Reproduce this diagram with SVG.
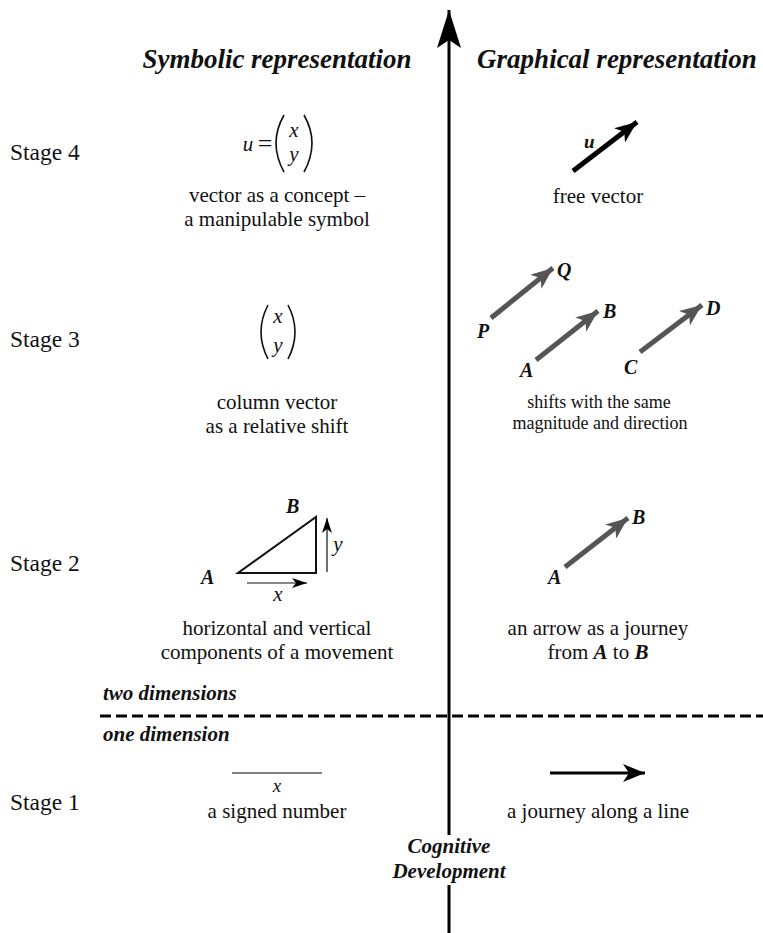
<svg xmlns="http://www.w3.org/2000/svg" width="763" height="933" viewBox="0 0 763 933">
<style>
text{font-family:"Liberation Serif","Times New Roman",serif;fill:#111}
.t{font-size:27px;font-weight:bold;font-style:italic}
.s{font-size:23.5px}
.b{font-size:21px;text-anchor:middle}
.sm{font-size:18px;text-anchor:middle}
.m{font-size:21px;font-style:italic;text-anchor:middle}
.lb{font-size:20px;font-weight:bold;font-style:italic}
.d{font-size:21px;font-weight:bold;font-style:italic}
.gray{stroke:#555;stroke-width:5;fill:none}
</style>
<defs>
<marker id="ax" markerUnits="userSpaceOnUse" viewBox="0 0 40 24" refX="38" refY="12" markerWidth="40" markerHeight="24" orient="auto"><path d="M0,0 L38,12 L0,24 L8,12 Z" fill="#000"/></marker>
<marker id="gh" markerUnits="userSpaceOnUse" viewBox="0 0 24 18" refX="22" refY="9" markerWidth="24" markerHeight="18" orient="auto"><path d="M0,0 L22,9 L0,18 L6,9 Z" fill="#555"/></marker>
<marker id="bh" markerUnits="userSpaceOnUse" viewBox="0 0 24 18" refX="22" refY="9" markerWidth="24" markerHeight="18" orient="auto"><path d="M0,0 L22,9 L0,18 L6,9 Z" fill="#000"/></marker>
<marker id="sh" markerUnits="userSpaceOnUse" viewBox="0 0 16 10" refX="15" refY="5" markerWidth="16" markerHeight="10" orient="auto"><path d="M0,0 L15,5 L0,10 L4,5 Z" fill="#000"/></marker>
</defs>
<g id="connectors">
<line x1="449" y1="933" x2="449" y2="885" stroke="#000" stroke-width="3"/>
<line x1="449" y1="835" x2="449" y2="10" stroke="#000" stroke-width="3" marker-end="url(#ax)"/>
<line x1="100" y1="716" x2="763" y2="716" stroke="#000" stroke-width="3" stroke-dasharray="11 5"/>
</g>
<g id="titles">
<text class="t" x="277" y="68" text-anchor="middle">Symbolic representation</text>
<text class="t" x="617" y="68" text-anchor="middle">Graphical representation</text>
</g>
<g id="stages">
<text class="s" x="10" y="160">Stage 4</text>
<text class="s" x="10" y="347">Stage 3</text>
<text class="s" x="10" y="571">Stage 2</text>
<text class="s" x="10" y="810">Stage 1</text>
</g>
<g id="stage4-symbolic">
<text class="m" x="248" y="151">u</text>
<text x="265" y="152" font-size="26" text-anchor="middle">=</text>
<path d="M284,115 Q268,143 284,172" fill="none" stroke="#111" stroke-width="1.6"/>
<path d="M304,115 Q320,143 304,172" fill="none" stroke="#111" stroke-width="1.6"/>
<text class="m" x="294" y="137">x</text>
<text class="m" x="294" y="161">y</text>
<text class="b" x="277" y="202">vector as a concept –</text>
<text class="b" x="277" y="226">a manipulable symbol</text>
</g>
<g id="stage4-graphical">
<line x1="573" y1="171" x2="637" y2="122" stroke="#000" stroke-width="5" marker-end="url(#bh)"/>
<text class="d" x="584" y="148" style="font-size:19px">u</text>
<text class="b" x="598" y="203">free vector</text>
</g>
<g id="stage3-symbolic">
<path d="M268,305 Q254,332 268,359" fill="none" stroke="#111" stroke-width="1.6"/>
<path d="M288,305 Q302,332 288,359" fill="none" stroke="#111" stroke-width="1.6"/>
<text class="m" x="278" y="323">x</text>
<text class="m" x="278" y="352">y</text>
<text class="b" x="277" y="409">column vector</text>
<text class="b" x="277" y="433">as a relative shift</text>
</g>
<g id="stage3-graphical">
<line x1="491" y1="318" x2="553" y2="268" class="gray" marker-end="url(#gh)"/>
<text class="lb" x="557" y="277">Q</text>
<text class="lb" x="477" y="338">P</text>
<line x1="536" y1="360" x2="598" y2="311" class="gray" marker-end="url(#gh)"/>
<text class="lb" x="603" y="318">B</text>
<text class="lb" x="520" y="377">A</text>
<line x1="640" y1="352" x2="702" y2="305" class="gray" marker-end="url(#gh)"/>
<text class="lb" x="706" y="315">D</text>
<text class="lb" x="624" y="374">C</text>
<text class="sm" x="599" y="408">shifts with the same</text>
<text class="sm" x="600" y="429">magnitude and direction</text>
</g>
<g id="stage2-symbolic">
<path d="M238,573 L316,573 L316,517 Z" fill="none" stroke="#111" stroke-width="2"/>
<text class="lb" x="286" y="513">B</text>
<text class="lb" x="201" y="584">A</text>
<line x1="327" y1="572" x2="327" y2="518" stroke="#111" stroke-width="1.2" marker-end="url(#sh)"/>
<text class="m" x="338" y="551">y</text>
<line x1="247" y1="583" x2="307" y2="583" stroke="#111" stroke-width="1.2" marker-end="url(#sh)"/>
<text class="m" x="278" y="601">x</text>
<text class="b" x="277" y="635">horizontal and vertical</text>
<text class="b" x="277" y="659">components of a movement</text>
</g>
<g id="stage2-graphical">
<line x1="565" y1="567" x2="628" y2="518" class="gray" marker-end="url(#gh)"/>
<text class="lb" x="632" y="524">B</text>
<text class="lb" x="548" y="584">A</text>
<text class="b" x="598" y="635">an arrow as a journey</text>
<text class="b" x="598" y="659">from <tspan font-weight="bold" font-style="italic">A</tspan> to <tspan font-weight="bold" font-style="italic">B</tspan></text>
</g>
<g id="dimensions">
<text class="d" x="103" y="700">two dimensions</text>
<text class="d" x="103" y="741">one dimension</text>
</g>
<g id="stage1-symbolic">
<line x1="232" y1="773" x2="322" y2="773" stroke="#555" stroke-width="1.5"/>
<text class="m" x="277" y="792" style="font-size:19px">x</text>
<text class="b" x="277" y="818">a signed number</text>
</g>
<g id="stage1-graphical">
<line x1="550" y1="773" x2="645" y2="773" stroke="#000" stroke-width="3" marker-end="url(#bh)"/>
<text class="b" x="598" y="818">a journey along a line</text>
</g>
<g id="axis-label">
<text class="lb" x="449" y="853" text-anchor="middle" style="font-size:21px">Cognitive</text>
<text class="lb" x="449" y="878" text-anchor="middle" style="font-size:21px">Development</text>
</g>
</svg>
